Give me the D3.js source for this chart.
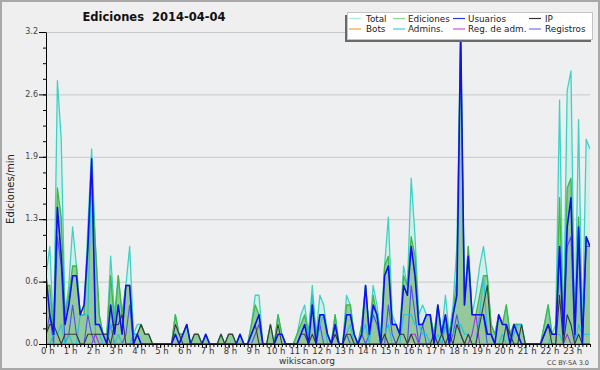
<!DOCTYPE html>
<html>
<head>
<meta charset="utf-8">
<script src="https://cdn.jsdelivr.net/npm/d3@7"></script>
<style>
body { margin: 0; background: #efefef; }
svg { display: block; font-family: 'DejaVu Sans', sans-serif; }
</style>
</head>
<body>
<div id="chart"></div>
<script>
// edits per minute, one value per 10-minute slot (00:00 .. 23:50)
const total = [
    .7, 1.0, .1, 2.7, 2.1, .3, .6, 1.2, .8, .3, .3, 1.2,
    2.0, 1.0, .3, .1, .1, .9, .3, .7, .3, .6, 1.0, .1,
    .2, .2, .1, .1, 0, 0, 0, 0, 0, 0, .3, .1,
    .1, .2, 0, .1, .1, 0, .1, 0, 0, 0, .1, 0,
    .1, .1, 0, .1, 0, 0, .2, .5, .5, 0, 0, .2,
    0, .3, .1, 0, 0, 0, .1, .3, .4, .1, .6, .1,
    .5, .4, .1, 0, .3, 0, 0, .5, .4, .1, 0, .2,
    .6, .1, .6, .4, .1, .8, 1.3, .3, .2, .1, .8, .6,
    1.7, 1.1, .3, .4, .3, .3, .1, .4, .1, .5, .1, .4,
    1.0, 3.2, .4, 1.0, .3, .5, .8, 1.0, .7, .2, .1, .3,
    .2, .4, .1, .2, .2, .2, 0, 0, 0, 0, 0, .2,
    .4, .1, .2, 2.5, .1, 2.6, 2.8, .1, 2.3, .1, 2.1, 2.0
];
const edits = [
    .6, .6, .1, 1.6, 1.3, .3, .5, .8, .8, .3, .3, .9,
    1.8, 1.0, .3, .1, .1, .7, .2, .7, .3, .6, .6, .1,
    .1, .2, .1, .1, 0, 0, 0, 0, 0, 0, .3, .1,
    .1, .2, 0, .1, .1, 0, .1, 0, 0, 0, .1, 0,
    .1, .1, 0, .1, 0, 0, .2, .4, .3, 0, 0, .2,
    0, .3, .1, 0, 0, 0, .1, .2, .3, .1, .5, .1,
    .3, .3, .1, 0, .3, 0, 0, .4, .4, .1, 0, .2,
    .6, .1, .5, .3, 0, .8, .9, .2, .2, .1, .7, .6,
    1.1, .9, .2, .2, .3, .3, .1, .4, .1, .3, .1, .3,
    .7, 3.1, .4, 1.0, .3, .3, .5, .7, .7, .2, .1, .3,
    .2, .4, .1, .2, .2, .2, 0, 0, 0, 0, 0, .2,
    .4, .1, .1, 1.5, .1, 1.6, 1.7, .1, 1.3, .1, 1.1, 1.0
];
const users = [
    .7, .3, .1, 1.4, .9, .2, .4, .7, .7, .3, .4, 1.0,
    1.9, .2, .2, .1, 0, .4, .1, .4, .1, .6, .6, 0,
    .1, 0, 0, 0, 0, 0, 0, 0, 0, 0, .1, 0,
    .1, .2, 0, 0, 0, 0, .1, 0, 0, 0, 0, 0,
    0, 0, 0, .1, 0, 0, .1, .2, .3, 0, 0, 0,
    0, .1, .1, 0, 0, 0, 0, .1, .2, 0, .4, 0,
    .3, .3, .1, 0, .2, 0, 0, .3, .3, .1, 0, .1,
    .6, .1, .4, .3, 0, .7, .8, .2, .2, .1, .6, .5,
    1.0, .7, .2, .2, .3, .3, 0, .4, .1, .3, 0, .3,
    .5, 3.2, .4, .9, .3, .3, .3, .3, .1, .1, 0, .3,
    .2, .2, 0, .2, .1, 0, 0, 0, 0, 0, 0, .1,
    .2, .1, .1, 1.0, .1, 1.2, 1.5, .1, 1.2, 0, 1.1, 1.0
];
const ip = [
    .1, .2, .2, .1, 0, .1, .1, .1, .1, 0, 0, .1,
    .1, .1, .1, .1, .1, 0, .2, .2, .3, 0, 0, 0,
    .1, .2, .1, .1, 0, 0, 0, 0, 0, 0, .2, .1,
    0, 0, 0, .1, .1, 0, 0, 0, 0, 0, .1, 0,
    .1, .1, 0, 0, 0, 0, .1, .2, 0, 0, 0, .2,
    0, .2, 0, 0, 0, 0, 0, .1, .1, 0, .1, 0,
    0, 0, 0, 0, .1, 0, 0, .1, .1, 0, 0, 0,
    0, 0, 0, 0, 0, .1, 0, 0, 0, .1, .1, 0,
    .1, 0, 0, 0, 0, 0, .1, 0, .1, 0, .1, 0,
    .2, .1, 0, .1, 0, 0, .2, .4, .6, .1, 0, 0,
    0, .2, .1, 0, 0, .2, 0, 0, 0, 0, 0, .1,
    .2, 0, 0, .5, 0, .3, .2, 0, .1, 0, 0, 0
];
const bots = [
    0, 0, 0, 0, 0, 0, 0, 0, 0, 0, 0, 0,
    0, 0, 0, 0, 0, 0, 0, 0, 0, 0, 0, 0,
    0, 0, 0, 0, 0, 0, 0, 0, 0, 0, 0, 0,
    0, 0, 0, 0, 0, 0, 0, 0, 0, 0, 0, 0,
    0, 0, 0, 0, 0, 0, 0, 0, 0, 0, 0, 0,
    0, 0, 0, 0, 0, 0, 0, 0, 0, 0, 0, 0,
    0, 0, 0, 0, 0, 0, 0, 0, 0, 0, 0, 0,
    0, 0, 0, 0, 0, 0, 0, 0, 0, 0, 0, 0,
    0, 0, 0, 0, 0, 0, 0, 0, 0, 0, 0, 0,
    0, 0, 0, 0, 0, 0, 0, 0, 0, 0, 0, 0,
    0, 0, 0, 0, 0, 0, 0, 0, 0, 0, 0, 0,
    0, 0, 0, 0, 0, 0, 0, 0, 0, 0, 0, 0
];
const admins = [
    0, 0, .1, .1, .2, 0, .1, 0, 0, .3, .3, .3,
    1.8, .1, .1, 0, 0, .2, 0, .1, 0, 0, 0, .1,
    .1, 0, 0, 0, 0, 0, 0, 0, 0, 0, 0, 0,
    0, 0, 0, 0, 0, 0, 0, 0, 0, 0, 0, 0,
    0, 0, 0, 0, 0, 0, 0, 0, 0, 0, 0, 0,
    0, 0, 0, 0, 0, 0, 0, .1, .2, .1, .5, 0,
    .2, .3, 0, 0, 0, 0, 0, .1, .2, 0, 0, .1,
    .2, 0, .4, .3, 0, .1, .2, 0, 0, 0, .3, .3,
    .3, .2, .2, .1, .1, 0, 0, .1, 0, .2, .1, .1,
    .2, .2, .1, .1, 0, 0, .3, .7, .1, .1, 0, 0,
    .1, 0, 0, .1, .2, .2, 0, 0, 0, 0, 0, 0,
    0, .1, .1, .1, 0, .3, .2, 0, .2, .1, .1, .1
];
const adminLogs = [
    0, 0, 0, 0, 0, 0, 0, 0, 0, 0, 0, 0,
    0, .1, 0, 0, 0, 0, 0, 0, 0, 0, 0, 0,
    0, 0, 0, 0, 0, 0, 0, 0, 0, 0, 0, 0,
    0, 0, 0, 0, 0, 0, 0, 0, 0, 0, 0, 0,
    0, 0, 0, 0, 0, 0, 0, 0, 0, 0, 0, 0,
    0, 0, 0, 0, 0, 0, 0, 0, 0, 0, 0, 0,
    0, 0, 0, 0, 0, 0, 0, 0, 0, 0, 0, 0,
    0, 0, 0, 0, 0, 0, 0, 0, 0, 0, 0, 0,
    .1, .1, 0, 0, 0, 0, 0, 0, 0, 0, 0, 0,
    0, 0, 0, 0, .1, .3, 0, 0, 0, 0, 0, 0,
    0, 0, 0, 0, 0, 0, 0, 0, 0, 0, 0, 0,
    0, 0, 0, 0, 0, .1, 0, 0, 0, 0, 0, 0
];
const logs = [
    .1, .3, 0, 1.1, .8, 0, .1, .4, .1, 0, 0, .3,
    .1, 0, 0, 0, 0, .2, 0, 0, 0, .1, .4, 0,
    0, 0, 0, 0, 0, 0, 0, 0, 0, 0, 0, 0,
    0, 0, 0, 0, 0, 0, 0, 0, 0, 0, 0, 0,
    0, 0, 0, 0, 0, 0, 0, .1, .2, 0, 0, 0,
    0, 0, 0, 0, 0, 0, 0, 0, 0, 0, 0, 0,
    .2, 0, 0, 0, 0, 0, 0, .1, 0, 0, 0, .1,
    0, .1, .3, .2, 0, 0, .4, .1, 0, 0, 0, 0,
    .6, .3, 0, .2, 0, 0, 0, 0, 0, .2, 0, .1,
    .3, .1, 0, 0, 0, 0, .3, .3, 0, 0, 0, 0,
    0, 0, 0, 0, 0, 0, 0, 0, 0, 0, 0, 0,
    0, 0, 0, 1.0, 0, 1.0, 1.1, 0, 1.0, 0, 1.0, 1.0
];

const hourLabels = ['0 h', '1 h', '2 h', '3 h', '4 h', '5 h', '6 h', '7 h', '8 h', '9 h', '10 h', '11 h',
    '12 h', '13 h', '14 h', '15 h', '16 h', '17 h', '18 h', '19 h', '20 h', '21 h', '22 h', '23 h'];
const yTicks = [0, 0.64, 1.28, 1.92, 2.56, 3.2];

const legendNames = ['Total', 'Ediciones', 'Usuarios', 'IP', 'Bots', 'Admins.', 'Reg. de adm.', 'Registros'];
const legendColors = ['#a9e6de', '#8fd48f', '#3434e6', '#333333', '#f5a23c', '#45c9dc', '#cc55dd', '#7272f0'];

const width = 600, height = 370;
const plotLeft = 46, plotRight = 590, plotTop = 32, plotBottom = 344;

const svg = d3.select('#chart').append('svg')
    .attr('width', width)
    .attr('height', height);

svg.append('rect')
    .attr('x', 1).attr('y', 1)
    .attr('width', width - 2).attr('height', height - 2)
    .attr('fill', '#efefef')
    .attr('stroke', '#a8a8a8')
    .attr('stroke-width', 2);

svg.append('rect')
    .attr('x', plotLeft).attr('y', plotTop)
    .attr('width', plotRight - plotLeft).attr('height', plotBottom - plotTop)
    .attr('fill', '#eeeff1');

const xScale = d3.scaleLinear()
    .domain([0, total.length - 1])
    .range([plotLeft, plotRight]);

const yScale = d3.scaleLinear()
    .domain([0, 3.2])
    .range([plotBottom, plotTop]);

// grid
const grid = svg.append('g')
    .attr('transform', `translate(${plotLeft}, 0)`)
    .call(d3.axisLeft(yScale).tickValues(yTicks).tickSize(-(plotRight - plotLeft)).tickFormat(''));
grid.select('.domain').remove();

svg.append('clipPath').attr('id', 'plot')
    .append('rect')
    .attr('x', plotLeft).attr('y', plotTop - 2)
    .attr('width', plotRight - plotLeft).attr('height', plotBottom - plotTop + 2);

const plot = svg.append('g').attr('clip-path', 'url(#plot)');

const area = d3.area()
    .x((d, i) => xScale(i))
    .y0(yScale(0))
    .y1(d => yScale(d));

const line = d3.line()
    .x((d, i) => xScale(i))
    .y(d => yScale(d));

plot.append('path').attr('d', area(total)).attr('fill', '#d4efe9');
plot.append('path').attr('d', area(edits)).attr('fill', '#93c99b');

const lines = [
    {values: total, color: '#3ed2c4', width: 1.3},
    {values: edits, color: '#3db847', width: 1.3},
    {values: logs, color: '#4f4ff2', width: 1.1},
    {values: admins, color: '#22c3dd', width: 1.1},
    {values: bots, color: '#f5a23c', width: 1},
    {values: adminLogs, color: '#a532de', width: 1.1},
    {values: ip, color: '#3a3a3a', width: 1.1},
    {values: users, color: '#0f0ff0', width: 1.6}
];

lines.forEach(s => {
    plot.append('path')
        .attr('d', line(s.values))
        .attr('fill', 'none')
        .attr('stroke', s.color)
        .attr('stroke-width', s.width)
        .attr('stroke-linejoin', 'round');
});

// axes
const yMinor = svg.append('g')
    .attr('transform', `translate(${plotLeft}, 0)`)
    .call(d3.axisLeft(yScale).tickValues(d3.range(0, 3.21, 0.16)).tickSize(3).tickFormat('').tickSizeOuter(0));
yMinor.select('.domain').remove();

const yAxis = svg.append('g')
    .attr('transform', `translate(${plotLeft}, 0)`)
    .call(d3.axisLeft(yScale).tickValues(yTicks).tickFormat(d3.format('.1f')).tickSize(7).tickPadding(1).tickSizeOuter(0));
yAxis.selectAll('text')
    .attr('font-family', 'DejaVu Sans, sans-serif')
    .attr('font-size', 8)
    .attr('fill', '#444')
    .attr('dy', '0.2em');

svg.append('g')
    .attr('transform', `translate(0, ${plotBottom})`)
    .call(d3.axisBottom(xScale).tickValues(d3.range(0, total.length)).tickSize(3).tickFormat('').tickSizeOuter(0));

const xAxis = svg.append('g')
    .attr('transform', `translate(0, ${plotBottom})`)
    .call(d3.axisBottom(xScale)
        .tickValues(hourLabels.map((h, i) => i * 6))
        .tickFormat((d, i) => hourLabels[i])
        .tickSize(4).tickPadding(0).tickSizeOuter(0));
xAxis.selectAll('text')
    .attr('font-family', 'DejaVu Sans, sans-serif')
    .attr('font-size', 8.5)
    .attr('fill', '#333')
    .attr('dx', '0.15em');

svg.selectAll('.domain, .tick line').attr('stroke', '#000');
grid.selectAll('line').attr('stroke', '#c9c9c9');

// texts
svg.append('text')
    .attr('x', 154).attr('y', 21)
    .attr('text-anchor', 'middle')
    .attr('font-size', 11.5)
    .attr('font-weight', 'bold')
    .attr('fill', '#111')
    .style('white-space', 'pre')
    .text('Ediciones  2014-04-04');

svg.append('text')
    .attr('transform', 'translate(14, 189) rotate(-90)')
    .attr('text-anchor', 'middle')
    .attr('font-size', 10)
    .attr('fill', '#222')
    .text('Ediciones/min');

svg.append('text')
    .attr('x', 307).attr('y', 364)
    .attr('text-anchor', 'middle')
    .attr('font-size', 9)
    .attr('fill', '#333')
    .text('wikiscan.org');

svg.append('text')
    .attr('x', 589).attr('y', 365)
    .attr('text-anchor', 'end')
    .attr('font-size', 6.5)
    .attr('fill', '#444')
    .text('CC BY-SA 3.0');

// legend
svg.append('rect')
    .attr('x', 345).attr('y', 15)
    .attr('width', 246).attr('height', 27)
    .attr('fill', '#6a6a6a');
svg.append('rect')
    .attr('x', 347.5).attr('y', 12.5)
    .attr('width', 245).attr('height', 27)
    .attr('fill', '#fff')
    .attr('stroke', '#c4c4c4');

const colSwatch = [349, 393, 453, 529];
const colText = [366, 408, 468, 545];
const rowY = [18.5, 29];

const legend = svg.append('g').selectAll('g')
    .data(legendNames)
    .enter()
    .append('g');

legend.append('line')
    .attr('x1', (d, i) => colSwatch[i % 4])
    .attr('x2', (d, i) => colSwatch[i % 4] + 12)
    .attr('y1', (d, i) => rowY[Math.floor(i / 4)])
    .attr('y2', (d, i) => rowY[Math.floor(i / 4)])
    .attr('stroke', (d, i) => legendColors[i])
    .attr('stroke-width', 1.2);

legend.append('text')
    .attr('x', (d, i) => colText[i % 4])
    .attr('y', (d, i) => rowY[Math.floor(i / 4)] + 3.3)
    .attr('font-size', 8.8)
    .attr('fill', '#222')
    .text(d => d);
</script>
</body>
</html>
